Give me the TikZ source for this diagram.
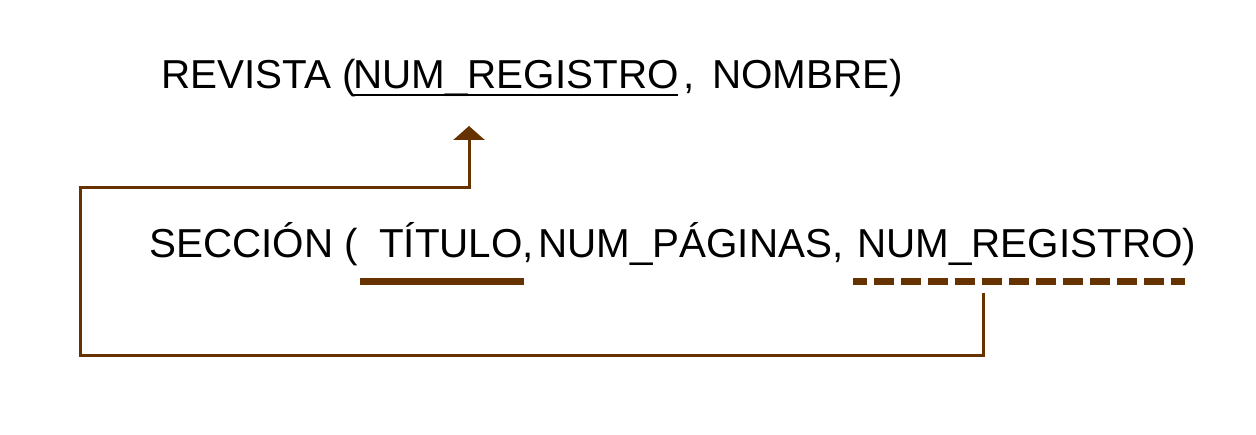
\documentclass[tikz,border=0pt]{standalone}
\usepackage{fontspec}
\setmainfont{Liberation Sans}
\usetikzlibrary{arrows.meta}
\definecolor{fkbrown}{HTML}{663300}
\tikzset{
  attr/.style={anchor=base west, inner sep=0pt, font=\fontsize{40.4}{41}\selectfont},
  pkline/.style={draw=black, line width=2pt},
  keyline/.style={draw=fkbrown, line width=7pt},
  fkline/.style={draw=fkbrown, line width=7pt, dash pattern=on 20pt off 7pt, dash phase=6pt},
  fklink/.style={draw=fkbrown, line width=3pt, -{Triangle[width=31pt,length=14pt]}}
}
\begin{document}
\begin{tikzpicture}[x=1pt, y=-1pt]
				\useasboundingbox (0,0) rectangle (1256,435);

				% Revista
				\node[attr] (rev) at (161,89) {REVISTA (};
				\node[attr] (revpk) at (353,89) {NUM\_REGISTRO};
				\node[attr] (revcoma) at (683,89) {,};
				\node[attr] (revnom) at (712,89) {NOMBRE)};
				\draw[pkline] (353,95) -- (678,95);

				% Seccion
				\node[attr] (sec) at (149,258) {SECCIÓN (};
				\node[attr] (sectit) at (379,258) {TÍTULO,};
				\node[attr] (secpag) at (538,258) {NUM\_PÁGINAS,};
				\node[attr] (secfk) at (857,258) {NUM\_REGISTRO)};
				\draw[keyline] (360,281.5) -- (524,281.5);
				\draw[fkline] (853,281.5) -- (1185,281.5);

				% Referencia
				\coordinate (fkfoot) at (983,293);
				\coordinate (pkhead) at (469,126);
				\draw[fklink] (fkfoot) |- (80,356) -- (80,188) -| (pkhead);
			\end{tikzpicture}
\end{document}
